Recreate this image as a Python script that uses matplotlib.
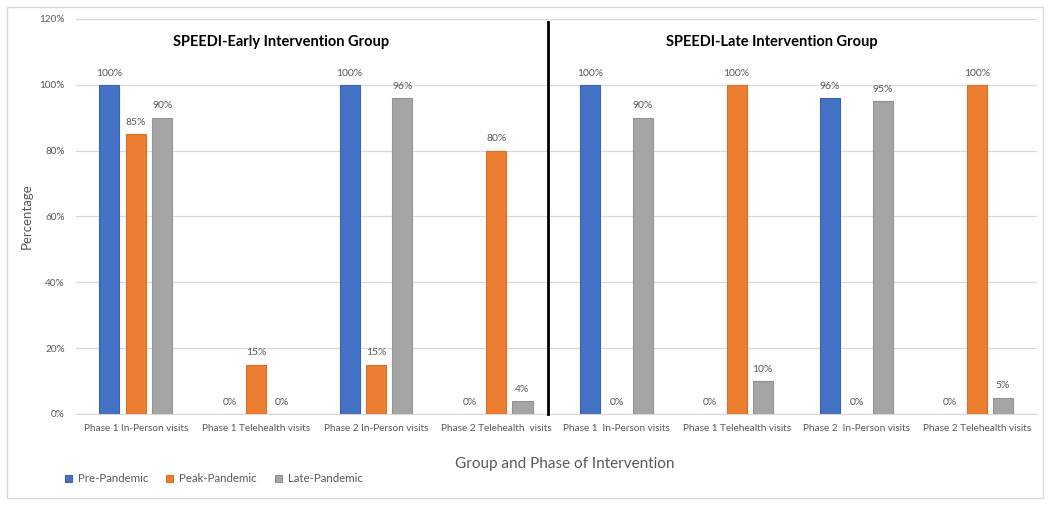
import matplotlib.pyplot as plt
import numpy as np
from matplotlib.patches import Rectangle

plt.rcParams["font.family"] = ["Lato", "DejaVu Sans"]

# Category labels (early group, then late group)
categories = [
    "Phase 1 In-Person visits",
    "Phase 1 Telehealth visits",
    "Phase 2 In-Person visits",
    "Phase 2 Telehealth  visits",
    "Phase 1  In-Person visits",
    "Phase 1 Telehealth visits",
    "Phase 2  In-Person visits",
    "Phase 2 Telehealth visits",
]
series_names = ["Pre-Pandemic", "Peak-Pandemic", "Late-Pandemic"]
pre_pandemic = [100, 0, 100, 0, 100, 0, 96, 0]
peak_pandemic = [85, 15, 15, 80, 0, 100, 0, 100]
late_pandemic = [90, 0, 96, 4, 90, 10, 95, 5]
group_titles = ["SPEEDI-Early Intervention Group", "SPEEDI-Late Intervention Group"]

colors = ["#4472C4", "#ED7D31", "#A5A5A5"]
edges = ["#3A64B0", "#D86F27", "#939393"]
text_gray = "#595959"

fig = plt.figure(figsize=(10.5, 5.05), dpi=100)
ax = fig.add_axes([0.0724, 0.1802, 0.9152, 0.7822])

# Light outer frame like the Excel chart area
fig.patches.append(Rectangle((7 / 1050, 7 / 505), 1036 / 1050, 491 / 505,
                             transform=fig.transFigure, fill=False,
                             edgecolor="#d9d9d9", lw=1))

x = np.arange(len(categories))
width = 0.167
offsets = [-0.222, 0.0, 0.217]
for vals, name, off, c, ec in zip([pre_pandemic, peak_pandemic, late_pandemic],
                                  series_names, offsets, colors, edges):
    bars = ax.bar(x + off, vals, width, color=c, edgecolor=ec, lw=0.8,
                  label=name, zorder=3)
    for b, v in zip(bars, vals):
        ax.text(b.get_x() + b.get_width() / 2, v + 2.2, f"{v}%",
                ha="center", va="bottom", fontsize=7.5, color=text_gray)

ax.set_xlim(-0.5, len(categories) - 0.5)
ax.set_ylim(0, 120)
ax.set_yticks(np.arange(0, 121, 20))
ax.set_yticklabels([f"{v}%" for v in range(0, 121, 20)])
ax.set_xticks(x)
ax.set_xticklabels(categories)
ax.tick_params(axis="both", length=0, labelsize=7.2, labelcolor=text_gray)
ax.tick_params(axis="x", pad=7)
ax.tick_params(axis="y", pad=8)
ax.grid(axis="y", color="#d9d9d9", lw=0.9, zorder=0)
for s in ["top", "right", "left"]:
    ax.spines[s].set_visible(False)
ax.spines["bottom"].set_color("#d9d9d9")

# Divider between the two groups
ax.plot([3.43, 3.43], [0, 119], color="black", lw=2, zorder=4, clip_on=False)

ax.text(1.21, 113, group_titles[0], ha="center", va="center",
        fontsize=10.5, fontweight="bold", color="black")
ax.text(5.29, 113, group_titles[1], ha="center", va="center",
        fontsize=10.5, fontweight="bold", color="black")

ax.set_ylabel("Percentage", fontsize=9.5, color=text_gray, labelpad=5)
fig.text(0.538, 0.081, "Group and Phase of Intervention", ha="center",
         va="center", fontsize=11, color=text_gray)

leg = fig.legend(loc="center left", bbox_to_anchor=(0.052, 0.052), ncol=3,
                 frameon=False, fontsize=8.3, handlelength=0.6, handleheight=0.6,
                 columnspacing=1.6, handletextpad=0.5, labelcolor=text_gray)

fig.savefig("out.png", dpi=100)
